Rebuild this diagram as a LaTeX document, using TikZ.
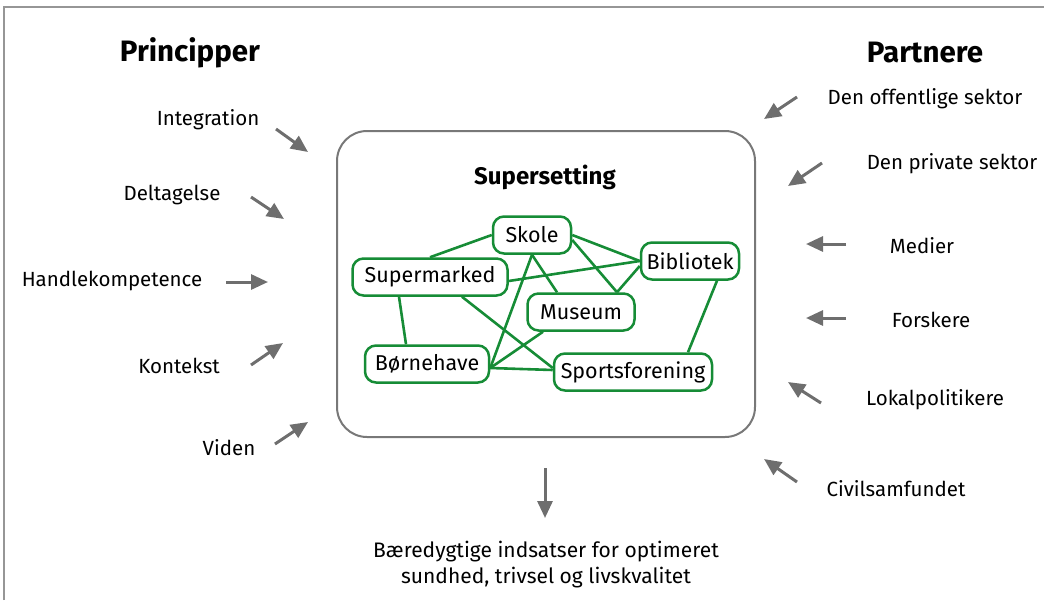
\documentclass[tikz,border=0pt]{standalone}
\usepackage{fontspec}
\setmainfont{Fira Sans}
\usetikzlibrary{arrows.meta,backgrounds}
\definecolor{netgreen}{RGB}{22,140,54}
\definecolor{arrowgray}{RGB}{110,110,110}
\definecolor{framegray}{RGB}{120,120,120}
\definecolor{edgegray}{RGB}{150,150,150}

\begin{document}
\begin{tikzpicture}[x=1pt,y=-1pt,
  label/.style={font=\fontsize{20.5}{24}\selectfont, inner sep=0pt, yshift=-1.5pt},
  heading/.style={font=\fontsize{29.5}{34}\selectfont\bfseries, inner sep=0pt},
  place/.style={draw=netgreen, line width=2.5pt, rounded corners=11pt, fill=white,
    minimum height=37pt, inner sep=0pt, font=\fontsize{21.5}{25}\selectfont},
  link/.style={draw=netgreen, line width=2.6pt},
  feed/.style={draw=arrowgray, line width=3pt, -{Triangle[length=17pt,width=15pt]}},
]
\useasboundingbox (0,0) rectangle (1044,600);

% page frame (top and left edges only)
\coordinate (pbl) at (4,600);
\coordinate (ptl) at (4,7);
\coordinate (ptr) at (1044,7);
\draw[edgegray, line width=1.5pt] (pbl) -- (ptl) -- (ptr);

% headings
\node[heading] (principper) at (190,53) {Principper};
\node[heading] (partnere) at (925,53) {Partnere};

% central setting
\node[draw=framegray, line width=2pt, rounded corners=30pt,
  minimum width=418pt, minimum height=306pt] (frame) at (546,284) {};
\node[font=\fontsize{24}{28}\selectfont\bfseries, inner sep=0pt] (super) at (545,177) {Supersetting};

% network of places
\node[place, minimum width=78pt] (skole) at (532,235) {Skole};
\node[place, minimum width=155pt] (supermarked) at (430,277) {Supermarked};
\node[place, minimum width=98pt] (bibliotek) at (690,261) {Bibliotek};
\node[place, minimum width=107pt] (museum) at (581,312) {Museum};
\node[place, minimum width=124pt] (bornehave) at (427,364) {Børnehave};
\node[place, minimum width=158pt] (sports) at (633,372) {Sportsforening};

\begin{scope}[on background layer]
  \draw[link] (skole.west) -- (supermarked.north);
  \draw[link] (skole.east) -- (bibliotek.west);
  \draw[link] (skole.south) -- ([xshift=-24pt]museum.north);
  \draw[link] ([yshift=-5pt]skole.east) -- ([xshift=36pt]museum.north);
  \draw[link] ([yshift=-5pt]bibliotek.west) -- ([xshift=36pt]museum.north);
  \draw[link] ([yshift=-4pt]supermarked.east) -- (bibliotek.west);
  \draw[link] ([xshift=-31pt]supermarked.south) -- ([xshift=-21pt]bornehave.north);
  \draw[link] ([xshift=32pt]supermarked.south) -- ([yshift=4pt]sports.west);
  \draw[link] (skole.south) -- ([yshift=-4pt]bornehave.east);
  \draw[link] ([xshift=-38pt]museum.south) -- ([yshift=-4pt]bornehave.east);
  \draw[link] ([yshift=-4pt]bornehave.east) -- ([yshift=2pt]sports.west);
  \draw[link] ([xshift=27pt]bibliotek.south) -- ([xshift=55pt]sports.north);
\end{scope}

% principles
\node[label] (integration) at (208,118) {Integration};
\node[label] (deltagelse) at (172,193) {Deltagelse};
\node[label] (handle) at (112,279) {Handlekompetence};
\node[label] (kontekst) at (179,364) {Kontekst};
\node[label] (viden) at (229,446) {Viden};

\coordinate (i1) at (276,129); \coordinate (i2) at (308,152);
\coordinate (d1) at (251,197); \coordinate (d2) at (284,219);
\coordinate (h1) at (226,282); \coordinate (h2) at (268,282);
\coordinate (k1) at (251,365); \coordinate (k2) at (283,343);
\coordinate (v1) at (275,444); \coordinate (v2) at (308,422);
\draw[feed] (i1) -- (i2);
\draw[feed] (d1) -- (d2);
\draw[feed] (h1) -- (h2);
\draw[feed] (k1) -- (k2);
\draw[feed] (v1) -- (v2);

% partners
\node[label] (offentlig) at (925,97) {Den offentlige sektor};
\node[label] (privat) at (952,162) {Den private sektor};
\node[label] (medier) at (922,244) {Medier};
\node[label] (forskere) at (931,318) {Forskere};
\node[label] (lokal) at (935,398) {Lokalpolitikere};
\node[label] (civil) at (896,487) {Civilsamfundet};

\coordinate (o1) at (797,97);  \coordinate (o2) at (764,119);
\coordinate (p1) at (822,163); \coordinate (p2) at (788,186);
\coordinate (m1) at (846,244); \coordinate (m2) at (806,244);
\coordinate (f1) at (846,318); \coordinate (f2) at (806,318);
\coordinate (l1) at (821,403); \coordinate (l2) at (788,382);
\coordinate (c1) at (797,482); \coordinate (c2) at (764,459);
\draw[feed] (o1) -- (o2);
\draw[feed] (p1) -- (p2);
\draw[feed] (m1) -- (m2);
\draw[feed] (f1) -- (f2);
\draw[feed] (l1) -- (l2);
\draw[feed] (c1) -- (c2);

% outcome
\coordinate (r1) at (545,468); \coordinate (r2) at (545,518);
\draw[feed] (r1) -- (r2);
\node[label, align=center, font=\fontsize{21}{26}\selectfont] (result) at (546,563)
  {Bæredygtige indsatser for optimeret\\sundhed, trivsel og livskvalitet};
\end{tikzpicture}
\end{document}
